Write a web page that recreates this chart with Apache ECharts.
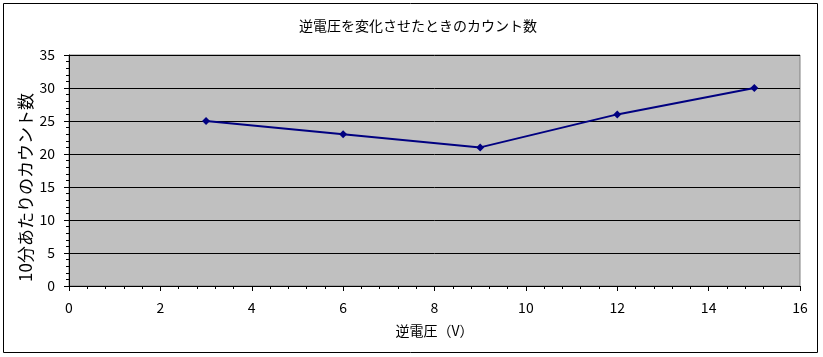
<!DOCTYPE html>
<html><head><meta charset="utf-8">
<script src="https://cdn.jsdelivr.net/npm/echarts@6/dist/echarts.min.js"></script>
<style>html,body{margin:0;padding:0;background:#fff}#c{width:823px;height:357px}</style>
</head><body><div id="c"></div>
<script>
const voltages = [3, 6, 9, 12, 15];
const counts = [25, 23, 21, 26, 30];
const titleText = '逆電圧を変化させたときのカウント数';
const xName = '逆電圧（V）';
const yName = '10分あたりのカウント数';
const font = '"Noto Sans CJK JP", "DejaVu Sans", sans-serif';
const chart = echarts.init(document.getElementById('c'));
chart.setOption({
  animation: false,
  backgroundColor: '#fff',
  title: { text: titleText, left: 413, top: 14, textAlign: 'center',
    textStyle: { fontFamily: font, fontSize: 14, fontWeight: 'normal', color: '#000' } },
  graphic: [{ type: 'rect', shape: { x: 3.5, y: 3.5, width: 814, height: 349 },
    style: { fill: 'none', stroke: '#000', lineWidth: 1 } }],
  grid: { left: 69, top: 55, width: 731, height: 231, show: true,
    backgroundColor: '#c0c0c0', borderColor: '#808080', borderWidth: 1 },
  xAxis: { type: 'value', min: 0, max: 16, interval: 2,
    name: xName, nameLocation: 'middle', nameGap: 38, nameMoveOverlap: false,
    nameTextStyle: { fontFamily: font, fontSize: 14, color: '#000' },
    axisLine: { show: true, lineStyle: { color: '#000', width: 1 } },
    axisTick: { show: true, length: 5, lineStyle: { color: '#000' } },
    minorTick: { show: true, splitNumber: 5, length: 3, lineStyle: { color: '#000' } },
    axisLabel: { fontFamily: font, fontSize: 14, color: '#000', margin: 15 },
    splitLine: { show: false } },
  yAxis: { type: 'value', min: 0, max: 35, interval: 5,
    name: yName, nameLocation: 'middle', nameGap: 35, nameRotate: 90, nameMoveOverlap: false,
    nameTextStyle: { fontFamily: font, fontSize: 17, color: '#000', padding: [0, 34, 0, 0] },
    axisLine: { show: true, lineStyle: { color: '#000', width: 1 } },
    axisTick: { show: true, length: 5, lineStyle: { color: '#000' } },
    minorTick: { show: true, splitNumber: 5, length: 3, lineStyle: { color: '#000' } },
    axisLabel: { fontFamily: font, fontSize: 14, color: '#000', margin: 14 },
    splitLine: { show: true, lineStyle: { color: '#000', width: 1 } } },
  series: [{ type: 'line', data: voltages.map((v, i) => [v, counts[i]]),
    symbol: 'diamond', symbolSize: 8,
    lineStyle: { color: '#000080', width: 2 },
    itemStyle: { color: '#000080' } }]
});
</script></body></html>
